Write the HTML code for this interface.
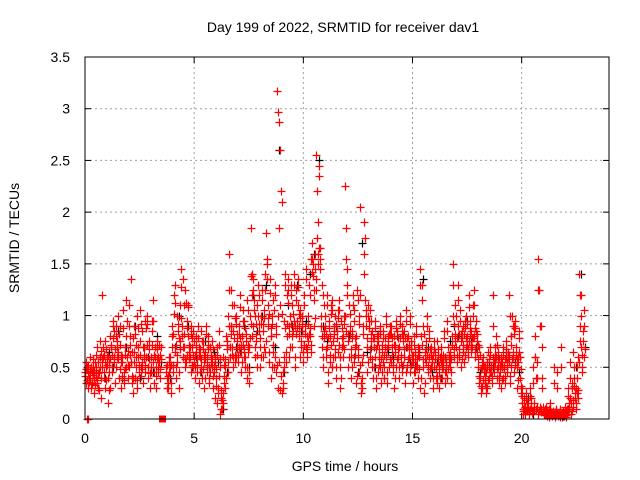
<!DOCTYPE html>
<html><head><meta charset="utf-8"><style>
html,body{margin:0;padding:0;background:#fff;}
svg{display:block;font-family:"Liberation Sans",sans-serif;}
</style></head><body>
<svg id="chart" width="640" height="480" viewBox="0 0 640 480" xmlns="http://www.w3.org/2000/svg">
<rect width="640" height="480" fill="#fff"/>
<text x="343" y="32" font-size="14" text-anchor="middle" fill="#000">Day 199 of 2022, SRMTID for receiver dav1</text>
<text transform="translate(19,238) rotate(-90)" font-size="14" text-anchor="middle" fill="#000">SRMTID / TECUs</text>
<text x="345" y="471" font-size="14" text-anchor="middle" fill="#000">GPS time / hours</text>
<g id="grid"></g>
<g id="ticks"></g>
<g id="black"></g>
<g id="red"></g>
<rect x="85" y="57" width="524" height="362" fill="none" stroke="#000" stroke-width="1"/>
</svg>
<script>
const xTicks=[0,5,10,15,20];
const yTicks=[0,0.5,1,1.5,2,2.5,3,3.5];
const yTickLabels=["0","0.5","1","1.5","2","2.5","3","3.5"];
const redByHour=[
[.45,.35,.55,.5,.3,.4,.4,.6,.3,.45,.35,.5,.4,.25,.55,.5,.7,.35,.3,.45,.6,.75,.2,.5,1.2,.6,.4,.3,.75,.5],
[.6,.4,.15,.55,.3,.8,.7,.45,.9,.95,.6,.35,.8,.5,.7,.65,1.0,.4,.9,.55,.3,.6,1.05,.45,.35,.7,.5,1.15,.6,.4],
[1.1,.5,.8,1.35,.65,.35,.25,.55,.9,.4,.6,.3,1.0,.7,.45,.75,1.05,.5,.55,.85,.35,.7,.45,.95,.6,1.0,.4,.5,.75,.3],
[.45,.6,.95,1.15,.55,.35,.7,.3,.5,.75,.45,.6,.55,.4,.7,null,null,null,null,null,null,.5,.4,.3,.3,.55,.45,.6,.25,.8],
[.9,.45,1.2,1.3,.65,.4,.55,1.0,.85,.3,.75,1.1,1.45,.9,.6,1.35,.7,.5,1.25,.55,.95,1.1,.8,.65,.6,.9,.45,.7,.5,.85],
[.55,.4,.8,.65,.45,.9,.7,.35,.6,.5,.85,.4,.75,.55,.3,.65,.9,.45,.6,.8,.4,.35,.7,.55,.5,.75,.3,.45,.6,.2],
[.4,.7,.15,.3,.85,.5,.05,.2,.1,.15,.6,.35,.5,.3,.8,.75,.45,1.0,1.6,.6,.9,1.25,.7,.5,.85,1.1,.55,1.0,.6,.75],
[.55,.9,.7,1.2,.65,.45,.8,1.05,.6,.95,.5,.75,.4,1.15,.65,.35,.7,1.0,1.85,1.4,.8,1.35,1.15,.6,1.0,.75,.5,1.1,1.3,.85],
[.7,.5,1.0,1.25,.85,.6,1.05,1.4,.65,1.8,1.55,.9,1.1,.55,1.35,.8,.4,1.0,.65,1.15,.5,1.3,.9,.45,3.17,2.97,1.85,2.87,2.6,2.2],
[2.1,.25,.3,.5,.95,1.4,.55,.8,1.2,1.35,.9,.6,1.0,1.3,.7,1.1,.85,1.4,.5,.9,1.25,.95,1.35,1.1,.8,1.05,.6,.75,1.0,.55],
[.65,1.2,.9,1.45,.7,.6,1.0,.75,1.3,.8,.65,1.55,1.7,1.5,1.25,.9,1.6,1.35,2.55,2.2,1.9,2.45,2.35,1.65,1.0,.7,1.3,.5,.85,1.1],
[.9,.6,1.2,.7,.35,.95,.55,.8,1.1,1.15,.5,.75,.9,.6,1.0,.4,.85,1.05,.65,1.15,.5,.3,.95,.7,.8,.6,1.0,2.25,1.85,1.55],
[1.45,.75,.5,1.1,.9,.6,.4,.85,1.2,1.05,.55,.7,.8,.35,1.25,.6,1.0,.45,2.05,.25,.3,.55,.9,1.6,1.9,1.75,1.0,.7,.45,1.1],
[.95,.6,1.05,.75,.5,.85,.4,.7,.95,.6,.3,.8,.75,.45,.6,.9,.5,.35,.65,.85,.55,.4,.7,1.0,.6,.35,.8,.75,.5,.9],
[.9,.55,.7,.45,.8,.3,.65,.95,.5,.85,.6,.4,.7,1.0,.55,.9,.45,.75,.6,.85,.35,1.05,.7,.5,.8,.6,1.0,.45,.75,.55],
[.55,.35,.8,.65,.45,.9,.5,.7,.4,.6,1.45,.3,.8,1.3,.5,.9,.25,.65,.75,.55,1.0,.45,.85,.6,.4,.7,.5,.55,.3,.75],
[.5,.65,.4,.35,.75,.55,.45,.3,.6,.7,.4,.55,.5,.85,.35,.6,.45,.95,.4,.7,.55,.65,.5,.35,.8,1.5,1.0,.6,.75,1.1],
[.7,.55,1.3,.9,.6,1.05,.75,.5,.85,.65,.9,.55,.95,.7,1.0,.8,.6,1.2,.75,.95,.65,.85,.7,1.1,1.25,.8,.6,.95,.75,.65],
[.5,.35,.7,.4,.25,.55,.3,.6,.45,.35,.5,.25,.55,.3,.65,.4,.7,.45,.5,.35,1.2,.6,.45,.7,.55,.8,.4,.5,.65,.35],
[.45,.6,.3,.55,.7,.4,.5,.35,.75,.6,.45,.65,.55,1.2,.35,.8,.5,1.0,.6,.9,.45,.95,.7,.5,.3,.55,.85,.65,.4,.25],
[.3,.15,.05,.2,.1,.05,.25,.08,.15,.12,.05,.3,.1,.2,.06,.5,.08,.15,.8,.6,.1,.55,1.55,.05,1.25,.1,.07,.9,.4,.12],
[.08,.04,.1,.05,.12,.03,.06,.1,.02,.15,.04,.07,.03,.08,.5,.05,.02,.1,.45,.06,.03,.04,.1,.02,.7,.05,.02,.08,.03,.12],
[.05,.02,.1,.3,.08,.15,.55,.2,.05,.35,.12,.65,.4,.25,.1,.3,.5,.2,.6,1.4,.9,1.2,.7,.45,.85,1.05,.6]
];
const redByHour2=[
[.42,.48,.38,.44,.52,.36,.46,.4,.5,.34,.43,.58,.47,.33,.41,.62,.38,.55,.44,.28,.5,.66,.4,.58,.7,.45,.62,.55,.38,.68],
[.52,.62,.28,.45,.58,.72,.62,.5,.78,.85,.55,.68,.9,.6,.75,.58,.82,.48,.72,.62,.42,.55,.88,.38,.48,.62,.8,.95,.52,.66],
[.9,.62,.72,.55,.42,.78,.4,.65,.82,.5,.72,.38,.88,.6,.52,.62,.92,.42,.48,.7,.58,.62,.52,.88,.72,.92,.5,.58,.68,.44],
[.5,.72,.85,.95,.62,.45,.6,.42,.58,.68,.5,.72,.62,.48,.58,null,null,null,null,null,null,.45,.52,.35,.42,.6,.5,.52,.35,.7],
[.82,.52,1.02,1.12,.72,.5,.62,.92,.78,.45,.68,.98,1.28,.8,.7,1.1,.82,.58,1.12,.62,.88,1.08,.72,.58,.7,.82,.52,.78,.62,.75],
[.62,.5,.72,.58,.52,.78,.62,.45,.68,.58,.75,.48,.68,.62,.4,.58,.82,.52,.68,.72,.5,.45,.62,.6,.58,.68,.42,.52,.55,.32],
[.48,.62,.25,.42,.72,.58,.1,.28,.18,.25,.52,.42,.58,.4,.72,.68,.55,.9,1.25,.7,.82,1.1,.62,.6,.78,.98,.62,.92,.68,.82],
[.62,.82,.78,1.08,.72,.55,.72,.95,.68,.88,.6,.82,.5,1.05,.72,.45,.78,.92,1.38,1.2,.9,1.25,1.05,.7,.92,.82,.62,1.0,1.2,.92],
[.78,.6,.92,1.15,.92,.7,.98,1.25,.75,1.5,1.35,.98,1.02,.65,1.22,.88,.5,.92,.72,1.05,.6,1.2,.82,.52,1.0,.3,.55,1.1,.28,.42],
[1.02,.35,.45,.6,.88,1.3,.65,.92,1.12,1.25,.82,.7,.92,1.2,.8,1.02,.95,1.3,.6,.82,1.15,.88,1.28,1.02,.9,.98,.7,.85,.92,.65],
[.72,1.1,.82,1.35,.8,.68,.92,.82,1.2,.88,.72,1.42,1.55,1.38,1.15,.98,1.45,1.25,1.75,1.6,1.5,1.65,1.55,1.45,.9,.8,1.2,.6,.78,1.0],
[.82,.68,1.1,.78,.45,.88,.62,.72,1.02,1.05,.6,.82,.85,.68,.92,.5,.78,.98,.72,1.05,.6,.4,.88,.78,.72,.68,.92,1.0,.85,1.2],
[1.3,.82,.6,1.02,.82,.68,.5,.78,1.1,.95,.62,.78,.72,.42,1.15,.68,.92,.52,1.2,.35,.4,.62,.82,1.4,1.15,1.05,.9,.78,.55,1.0],
[.88,.68,.95,.82,.58,.78,.5,.78,.88,.68,.4,.72,.82,.52,.68,.82,.58,.45,.72,.78,.62,.5,.78,.92,.68,.45,.72,.82,.58,.82],
[.82,.62,.78,.52,.72,.4,.72,.88,.58,.78,.68,.5,.78,.92,.62,.82,.52,.82,.68,.78,.45,.95,.78,.58,.72,.68,.92,.52,.68,.62],
[.62,.45,.72,.58,.52,.82,.58,.62,.48,.68,1.3,.4,.72,1.15,.58,.82,.35,.58,.68,.62,.9,.52,.78,.68,.48,.62,.58,.62,.4,.68],
[.58,.58,.48,.42,.68,.62,.52,.4,.55,.62,.48,.62,.58,.78,.45,.55,.52,.85,.48,.62,.62,.58,.58,.45,.72,1.3,.92,.68,.82,1.0],
[.78,.62,1.15,.82,.68,.95,.82,.58,.78,.72,.82,.62,.88,.78,.92,.72,.68,1.08,.82,.88,.72,.78,.78,1.0,1.1,.88,.68,.85,.82,.72],
[.58,.42,.62,.48,.32,.5,.38,.52,.5,.42,.45,.32,.5,.38,.58,.48,.62,.52,.45,.42,.9,.55,.5,.62,.6,.72,.48,.55,.58,.42],
[.52,.55,.38,.5,.62,.48,.58,.42,.68,.55,.52,.6,.62,1.0,.42,.72,.58,.9,.65,.82,.52,.88,.62,.58,.38,.6,.78,.6,.48,.32],
[.22,.1,.08,.15,.12,.08,.18,.1,.1,.08,.08,.22,.12,.15,.08,.35,.1,.1,.6,.4,.12,.4,1.25,.08,.9,.12,.1,.7,.3,.08],
[.06,.05,.08,.07,.09,.04,.05,.08,.04,.1,.06,.05,.05,.06,.35,.07,.04,.08,.3,.05,.05,.06,.08,.04,.5,.06,.04,.06,.05,.09],
[.08,.04,.08,.22,.1,.12,.4,.15,.08,.3,.18,.5,.32,.2,.15,.25,.4,.28,.55,1.2,.75,1.0,.62,.5,.75,.9,.68]
];
const blackByHour=[
[.5,.35,.45,.6,.4],[.65,.5,.85,.4,.7],[.55,.9,.4,.7,.6],[.45,.8,.55,null,.4],
[.7,1.0,.6,.9,.5],[.6,.45,.75,.5,.65],[.55,.1,.45,.9,.7],[.65,.9,.5,1.2,.85],
[1.0,1.3,.8,.7,2.6],[.45,1.1,.9,1.3,.85],[.95,1.4,1.6,2.5,.9],[.75,.5,.9,.6,1.0],
[.8,.6,.45,1.7,.65],[.7,.5,.85,.4,.65],[.6,.8,.5,.7,.55],[.5,.65,1.35,.7,.45],
[.55,.4,.6,.75,.9],[.8,.65,.95,.75,.7],[.45,.35,.55,.5,.6],[.5,.65,.8,.55,.45],
[.1,.2,.05,.4,.08],[.05,.1,.04,.06,.03],[.1,.3,.5,1.4,.7]
];
const zeroPointTimes=[0.1,0.15];
const squareTimes=[3.55];

const NS="http://www.w3.org/2000/svg";
const X0=85,X1=609,Y0=419,Y1=57,XMAX=24,YMAX=3.5;
function xs(t){return X0+(X1-X0)*t/XMAX;}
function ys(v){return Y0-(Y0-Y1)*v/YMAX;}
function mk(tag,attrs,parent){const e=document.createElementNS(NS,tag);for(const k in attrs)e.setAttribute(k,attrs[k]);parent.appendChild(e);return e;}
const grid=document.getElementById('grid'),ticks=document.getElementById('ticks');
xTicks.forEach(t=>{
  const x=xs(t);
  if(t>0){const l=mk('line',{x1:x,y1:Y0,x2:x,y2:Y1,stroke:'#a0a0a0','stroke-dasharray':'2,3'},grid);
  
  }
  mk('line',{x1:x,y1:Y0,x2:x,y2:Y0-6,stroke:'#000'},ticks);
  mk('line',{x1:x,y1:Y1,x2:x,y2:Y1+6,stroke:'#000'},ticks);
  const tx=mk('text',{x:x,y:Y0+24,'font-size':14,'text-anchor':'middle'},ticks);
  tx.textContent=String(t);
  
  
});
yTicks.forEach((v,i)=>{
  const y=ys(v);
  if(v>0&&v<YMAX){const l=mk('line',{x1:X0,y1:y,x2:X1,y2:y,stroke:'#a0a0a0','stroke-dasharray':'2,3'},grid);
  
  }
  mk('line',{x1:X0,y1:y,x2:X0+6,y2:y,stroke:'#000'},ticks);
  mk('line',{x1:X1,y1:y,x2:X1-6,y2:y,stroke:'#000'},ticks);
  const tx=mk('text',{x:X0-15,y:y+5,'font-size':14,'text-anchor':'end'},ticks);
  tx.textContent=yTickLabels[i];
  
  
});
function cross(g,t,v,col){
  const x=Math.round(xs(t))+0.5,y=Math.round(ys(v))+0.5;
  const p=mk('path',{d:`M${x-4},${y}H${x+4}M${x},${y-4}V${y+4}`,stroke:col,'stroke-width':1.2,fill:'none'},g);
  
  
}
const bg=document.getElementById('black'),rg=document.getElementById('red');
blackByHour.forEach((arr,h)=>arr.forEach((v,i)=>{if(v!==null)cross(bg,h+0.1+i*0.2,v,'#000');}));
redByHour.forEach((arr,h)=>arr.forEach((v,i)=>{if(v!==null)cross(rg,h+Math.floor(i/3)*0.1+(i%3)*0.033,v,'#f00');}));
redByHour2.forEach((arr,h)=>arr.forEach((v,i)=>{if(v!==null)cross(rg,h+Math.floor(i/3)*0.1+(i%3)*0.033+0.017,v,'#f00');}));
zeroPointTimes.forEach(t=>cross(rg,t,0,'#f00'));
squareTimes.forEach(t=>{
  const r=mk('rect',{x:xs(t)-3.5,y:ys(0)-3.5,width:7,height:7,fill:'#f00'},rg);
  
  
});
</script>
</body></html>
